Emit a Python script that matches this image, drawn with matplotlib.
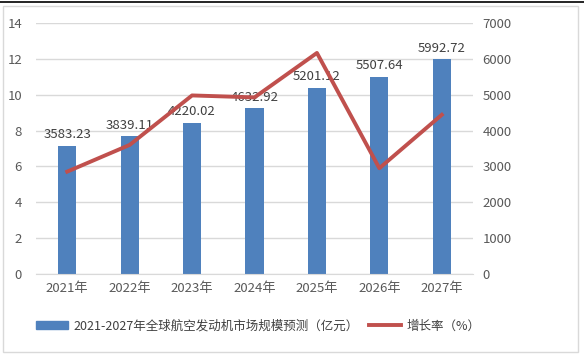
import matplotlib.pyplot as plt
from matplotlib.patches import Rectangle
from matplotlib.lines import Line2D

plt.rcParams['font.family'] = ['Noto Sans CJK SC', 'DejaVu Sans']

years = ["2021年", "2022年", "2023年", "2024年", "2025年", "2026年", "2027年"]
market = [3583.23, 3839.11, 4220.02, 4632.92, 5201.12, 5507.64, 5992.72]
growth = [5.71, 7.2, 9.96, 9.85, 12.33, 5.9, 8.88]

bar_color = "#4F81BD"
line_color = "#C0504D"
text_color = "#595959"

fig = plt.figure(figsize=(5.84, 3.56), dpi=100)

# outer chart frame and top table line
fig.add_artist(Rectangle((3 / 584, 1 - 352 / 356), 575 / 584, 346 / 356,
                         transform=fig.transFigure, fill=False,
                         edgecolor="#D9D9D9", linewidth=1))
fig.add_artist(Line2D([0, 1], [1 - 1.5 / 356] * 2, transform=fig.transFigure,
                      color="black", linewidth=1.2))

ax = fig.add_axes([36 / 584, 1 - 274 / 356, 437 / 584, 251 / 356])
ax2 = ax.twinx()

x = list(range(len(years)))

ax2.bar(x, market, width=0.29, color=bar_color, zorder=2)
for i, v in enumerate(market):
    ax2.text(i, v + 120, f"{v:.2f}", ha="center", va="bottom",
             fontsize=9.5, color="#404040")
ax2.set_ylim(0, 7000)
ax2.set_yticks(range(0, 7001, 1000))

ax.plot(x, growth, color=line_color, linewidth=2.8, zorder=5)
ax.set_ylim(0, 14)
ax.set_yticks(range(0, 15, 2))
ax.set_xlim(-0.5, len(years) - 0.5)
ax.set_xticks(x)
ax.set_xticklabels(years)

# line above bars
ax.set_zorder(ax2.get_zorder() + 1)
ax.patch.set_visible(False)

ax2.grid(axis="y", color="#D9D9D9", linewidth=1, zorder=0)
for a in (ax, ax2):
    for s in a.spines.values():
        s.set_visible(False)
    a.tick_params(length=0, labelsize=9.5, colors=text_color)
ax.spines["bottom"].set_visible(True)
ax.spines["bottom"].set_color("#D9D9D9")
ax.tick_params(axis="x", pad=6)
ax.tick_params(axis="y", pad=10)
ax2.tick_params(axis="y", pad=7)

handles = [Rectangle((0, 0), 1, 1, color=bar_color),
           Line2D([0], [0], color=line_color, linewidth=2.8)]
labels = ["2021-2027年全球航空发动机市场规模预测（亿元）", "增长率（%）"]
fig.legend(handles, labels, loc="center", bbox_to_anchor=(258 / 584, 1 - 326 / 356),
           ncol=2, frameon=False, fontsize=9, handlelength=2.6, handleheight=0.6,
           columnspacing=0.8, handletextpad=0.4, labelcolor="#404040")

fig.savefig("out.png", dpi=100)
plt.close()
